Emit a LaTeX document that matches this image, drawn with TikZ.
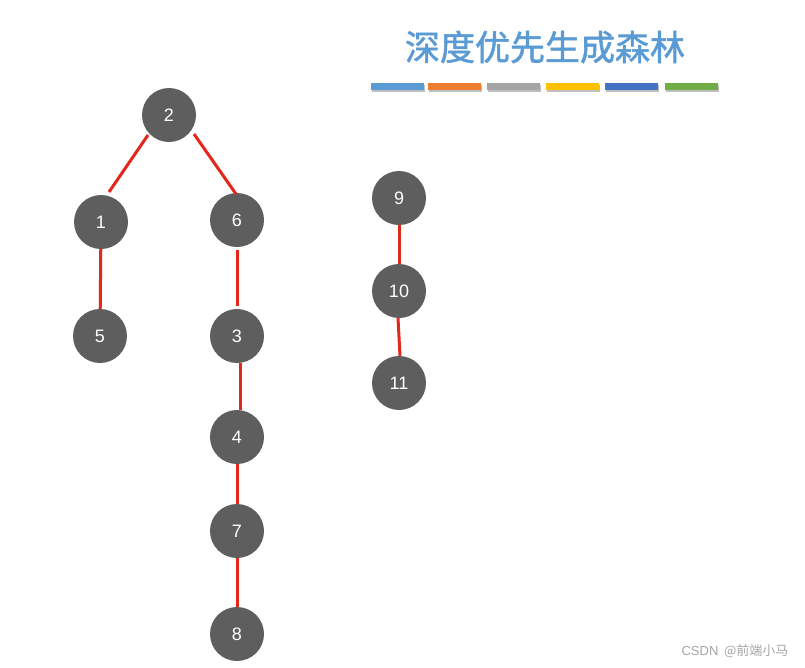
\documentclass[tikz,border=0pt]{standalone}
\usepackage{fontspec}
\usetikzlibrary{calc}
\setmainfont{Liberation Sans}
\newfontfamily\cjk{Noto Sans CJK SC}
\newfontfamily\cjkbold{Noto Sans CJK SC}[FakeBold=1.5]
\definecolor{nodegray}{HTML}{5E5E5E}
\definecolor{edgered}{HTML}{E5261A}
\definecolor{titleblue}{HTML}{5B9BD5}
\definecolor{cA}{HTML}{5B9BD5}
\definecolor{cB}{HTML}{ED7D31}
\definecolor{cC}{HTML}{A5A5A5}
\definecolor{cD}{HTML}{FFC000}
\definecolor{cE}{HTML}{4472C4}
\definecolor{cF}{HTML}{70AD47}
\begin{document}
\begin{tikzpicture}[x=1pt,y=-1pt,
  vtx/.style={circle,fill=nodegray,minimum size=54pt,inner sep=0pt,text=white,font=\fontsize{18}{21}\selectfont},
  edge/.style={draw=edgered,line width=3pt},
  bar/.style={minimum width=53pt,minimum height=7pt,inner sep=0pt}]
\useasboundingbox[fill=white] (0,0) rectangle (805,667);
\node[font=\cjkbold\fontsize{35}{39}\selectfont,text=titleblue] (title) at (545,47) {深度优先生成森林};
\foreach \c/\x [count=\i] in {cA/397,cB/454.5,cC/513.5,cD/572.5,cE/631.5,cF/691}{
  \node[bar,fill=black!25] (sh\i) at (\x+1,88) {};
  \node[bar,fill=\c] (bar\i) at (\x,86.5) {};
}
\node[vtx] (n2) at (169,115) {2};
\node[vtx] (n1) at (101,222) {1};
\node[vtx] (n6) at (237,220) {6};
\node[vtx] (n5) at (100,336) {5};
\node[vtx] (n3) at (237,336) {3};
\node[vtx] (n4) at (237,437) {4};
\node[vtx] (n7) at (237,531) {7};
\node[vtx] (n8) at (237,634) {8};
\node[vtx] (n9) at (399,198) {9};
\node[vtx] (n10) at (399,291) {10};
\node[vtx] (n11) at (399,383) {11};
\draw[edge] ($(n2.center)+(-21,20)$) -- ($(n1.center)+(8,-30)$);
\draw[edge] ($(n2.center)+(25,19)$) -- ($(n6.center)+(-1,-26)$);
\draw[edge] (n1) -- (n5);
\draw[edge,shorten <=3pt,shorten >=3pt] (n6) -- (n3);
\draw[edge] ([xshift=3pt]n3.south) -- ([xshift=3pt]n4.north);
\draw[edge] (n4) -- (n7);
\draw[edge] (n7) -- (n8);
\draw[edge] (n9) -- (n10);
\draw[edge] ([xshift=-1pt]n10.south) -- ([xshift=1pt]n11.north);
\node[font=\fontsize{13}{15}\selectfont,text=black!35,anchor=east] (wm) at (792,651) {CSDN \,{\cjk @前端小马}};
\end{tikzpicture}
\end{document}
